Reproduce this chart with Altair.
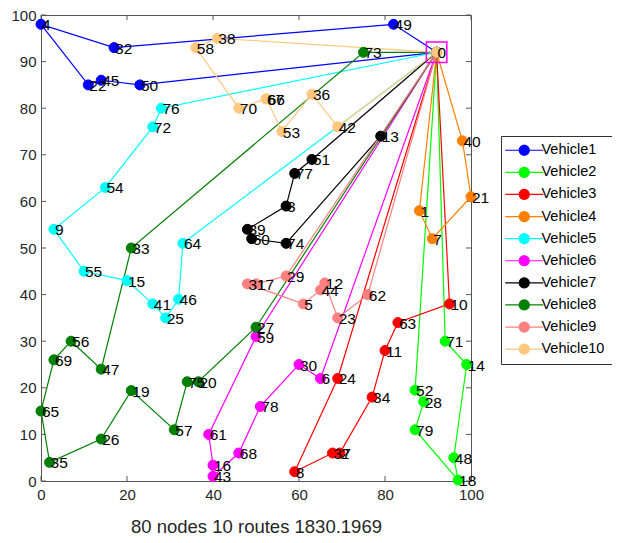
import math
import altair as alt
import pandas as pd

# ---------------- data ----------------
node_ids = list(range(80))
node_x = [92, 88, 69.5, 57, 0, 61, 65, 91, 59, 3,
          95, 80, 66, 79, 99, 20, 40, 50, 97, 21,
          36.6, 100, 11, 69, 69, 29, 14, 50, 89, 57,
          60, 48, 17, 21, 77, 2, 63, 67.8, 41, 48,
          98, 26, 69, 40, 65, 14, 32, 14, 96, 82,
          23, 63, 87, 56, 15, 10, 7, 31, 36, 50,
          49, 39, 76, 83, 33, 0, 52.5, 52.3, 46, 3,
          46, 94, 26, 75, 57, 34, 28, 59, 51, 87]
node_y = [92, 58, 6, 59, 98, 38, 22, 52, 2, 54,
          38, 28, 42.5, 74, 25, 43, 3.4, 42.3, 0.2, 19.4,
          21.3, 61, 85, 35, 22, 35, 9, 33, 17, 44,
          25, 42.3, 93, 50, 18, 4, 83, 6, 95, 54,
          73, 38, 76, 1, 41, 86, 39, 24, 5, 98,
          85, 69, 19.5, 75, 63, 45, 30, 11, 93, 31,
          52, 10, 40, 34, 51, 15, 82, 82, 6, 26,
          80, 30, 76, 92, 51, 21.3, 80, 66, 16, 11]

vehicles = ["Vehicle1", "Vehicle2", "Vehicle3", "Vehicle4", "Vehicle5",
            "Vehicle6", "Vehicle7", "Vehicle8", "Vehicle9", "Vehicle10"]
colors = ["#0000FF", "#00FF00", "#FF0000", "#FF8000", "#00FFFF",
          "#FF00FF", "#000000", "#008000", "#FF8080", "#FFC880"]

route1 = [0, 49, 32, 4, 22, 45, 50, 0]
route2 = [0, 71, 14, 48, 18, 79, 28, 52, 0]
route3 = [0, 10, 63, 11, 34, 2, 37, 8, 24, 0]
route4 = [0, 40, 21, 7, 1, 0]
route5 = [0, 76, 72, 54, 9, 55, 15, 41, 25, 46, 64, 0]
route6 = [0, 59, 61, 16, 43, 68, 78, 30, 6, 0]
route7 = [0, 51, 77, 3, 39, 60, 74, 13, 0]
route8 = [0, 73, 33, 47, 56, 69, 65, 35, 26, 19, 57, 75, 20, 27, 0]
route9 = [0, 29, 17, 31, 5, 44, 12, 23, 62, 0]
route10 = [0, 38, 58, 70, 67, 66, 53, 36, 42, 0]
routes = [route1, route2, route3, route4, route5,
          route6, route7, route8, route9, route10]

depot_id = 0
x_ticks = [0, 20, 40, 60, 80, 100]
y_ticks = [0, 10, 20, 30, 40, 50, 60, 70, 80, 90, 100]
title_text = "80 nodes 10 routes 1830.1969"

# ---------------- tables ----------------
rows = []
k = 0
for v, r in zip(vehicles, routes):
    for s, n in enumerate(r):
        rows.append({"vehicle": v, "seq": s, "node": n,
                     "x": node_x[n], "y": node_y[n], "ord": k,
                     "last": s == len(r) - 1})
        k += 1
route_df = pd.DataFrame(rows)
point_df = route_df[~route_df["last"]].copy()
label_df = pd.DataFrame({"node": node_ids, "x": node_x, "y": node_y,
                         "lab": [str(n) for n in node_ids]})
depot_df = label_df[label_df["node"] == depot_id]

# ---------------- style ----------------
W, H = 430, 466
FONT = "Liberation Sans"
AX = "#262626"
FRAME = "#555555"

xs = alt.Scale(domain=[0, 100], nice=False, zero=False)
ys = alt.Scale(domain=[0, 100], nice=False, zero=False)
xaxis = alt.Axis(values=x_ticks, ticks=False, domain=False, grid=False,
                 labelFontSize=15, labelFont=FONT, labelColor=AX, labelPadding=6,
                 labelFlush=False,
                 title=title_text, titleFont=FONT, titleFontSize=18.5,
                 titleFontWeight="normal", titleColor=AX, titlePadding=15)
yaxis = alt.Axis(values=y_ticks, ticks=False, domain=False, grid=False,
                 labelFontSize=15, labelFont=FONT, labelColor=AX, labelPadding=5,
                 labelFlush=False, title=None)

# legend symbol: line with circle
n_seg = 24
circ = "M" + "L".join(
    f"{math.cos(2*math.pi*i/n_seg):.3f},{math.sin(2*math.pi*i/n_seg):.3f}"
    for i in range(n_seg)) + "Z"
sym_path = "M-3.8,0L3.8,0" + circ

cscale = alt.Scale(domain=vehicles, range=colors)
legend = alt.Legend(
    title=None, orient="none", legendX=460, legendY=121,
    symbolType=sym_path, symbolSize=100, symbolStrokeWidth=1.2,
    symbolOffset=9, labelOffset=10, labelFont=FONT, labelFontSize=14.5,
    labelColor="#000000", padding=7, rowPadding=6.1, symbolOpacity=1,
    strokeColor="#333333", fillColor="white")

lines = alt.Chart(route_df).mark_line(strokeWidth=1.2).encode(
    x=alt.X("x:Q", scale=xs, axis=xaxis),
    y=alt.Y("y:Q", scale=ys, axis=yaxis),
    color=alt.Color("vehicle:N", scale=cscale, legend=legend),
    detail="vehicle:N",
    order="seq:Q")

points = alt.Chart(point_df).mark_point(filled=False, size=100, opacity=1,
                                        strokeWidth=1).encode(
    x=alt.X("x:Q", scale=xs, axis=xaxis),
    y=alt.Y("y:Q", scale=ys, axis=yaxis),
    color=alt.Color("vehicle:N", scale=cscale, legend=legend),
    fill=alt.Fill("vehicle:N", scale=cscale, legend=legend),
    order="ord:Q")

depot_sq = alt.Chart(depot_df).mark_point(
    shape="square", size=420, filled=False, color="#FF00FF",
    strokeWidth=1.5, opacity=1).encode(
    x=alt.X("x:Q", scale=xs, axis=xaxis),
    y=alt.Y("y:Q", scale=ys, axis=yaxis))

labels = alt.Chart(label_df).mark_text(
    align="left", baseline="middle", dx=1, dy=1,
    font=FONT, fontSize=15.5, color="#000000").encode(
    x=alt.X("x:Q", scale=xs, axis=xaxis),
    y=alt.Y("y:Q", scale=ys, axis=yaxis),
    text="lab:N")

xt = pd.DataFrame({"t": x_ticks})
yt = pd.DataFrame({"t": y_ticks})
tick_b = alt.Chart(xt).mark_rule(color=FRAME).encode(
    x=alt.X("t:Q", scale=xs, axis=xaxis), y=alt.value(H), y2=alt.value(H - 5))
tick_t = alt.Chart(xt).mark_rule(color=FRAME).encode(
    x=alt.X("t:Q", scale=xs, axis=xaxis), y=alt.value(0), y2=alt.value(5))
tick_l = alt.Chart(yt).mark_rule(color=FRAME).encode(
    y=alt.Y("t:Q", scale=ys, axis=yaxis), x=alt.value(0), x2=alt.value(5))
tick_r = alt.Chart(yt).mark_rule(color=FRAME).encode(
    y=alt.Y("t:Q", scale=ys, axis=yaxis), x=alt.value(W), x2=alt.value(W - 5))

chart = alt.layer(tick_b, tick_t, tick_l, tick_r, lines, points, depot_sq, labels).properties(
    width=W, height=H,
    padding={"left": 33, "top": 7, "right": 141, "bottom": 54},
    autosize=alt.AutoSizeParams(type="none"),
    background="white"
).configure_view(stroke=FRAME, strokeWidth=1)

chart.save("out.html", embed_options={"renderer": "svg", "actions": False})
